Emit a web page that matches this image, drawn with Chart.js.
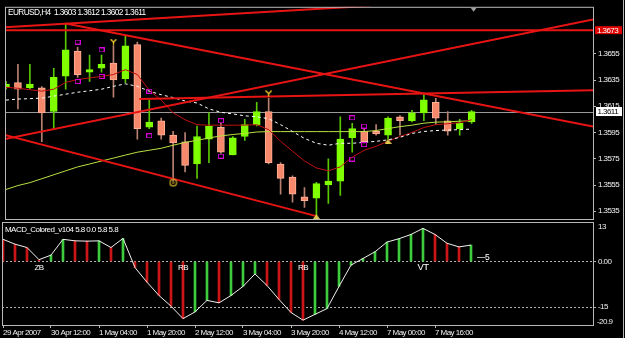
<!DOCTYPE html>
<html><head><meta charset="utf-8">
<script src="https://cdn.jsdelivr.net/npm/chart.js@4.4.0/dist/chart.umd.min.js"></script>
<style>
html,body{margin:0;padding:0;background:#000;}
#wrap{position:relative;width:625px;height:338px;overflow:hidden;background:#000;}
canvas{position:absolute;left:0;top:0;}
</style></head><body>
<div id="wrap"><canvas id="main" width="625" height="338"></canvas><canvas id="macd" width="625" height="338"></canvas></div>
<script>
// ---------- DATA ----------
const symbolTitle = 'EURUSD,H4';
const axisDates = ['29 Apr 2007','30 Apr 12:00','1 May 04:00','1 May 20:00','2 May 12:00','3 May 04:00','3 May 20:00','4 May 12:00','7 May 00:00','7 May 16:00'];
const axisDateBars = [0,4,8,12,16,20,24,28,32,36];

const openPrices  = [1.3630,1.3633,1.3629,1.3629,1.3611,1.3638,1.3657,1.3641,1.3644,1.3648,1.3636,1.3662,1.3599,1.3604,1.3593,1.3588,1.3571,1.3590,1.3599,1.3578,1.3592,1.3601,1.3611,1.3571,1.3561,1.3546,1.3545,1.3555,1.3558,1.3591,1.3596,1.3596,1.3593,1.3607,1.3604,1.3610,1.3618,1.3604,1.3598,1.3603];
const highPrices  = [1.3634,1.3647,1.3647,1.3630,1.3644,1.3678,1.3660,1.3654,1.3654,1.3661,1.3669,1.3664,1.3620,1.3606,1.3596,1.3595,1.3600,1.3610,1.3602,1.3592,1.3605,1.3618,1.3621,1.3572,1.3562,1.3553,1.3557,1.3575,1.3607,1.3602,1.3598,1.3601,1.3607,1.3608,1.3612,1.3624,1.3621,1.3611,1.3605,1.3612];
const lowPrices   = [1.3628,1.3613,1.3628,1.3588,1.3598,1.3628,1.3637,1.3634,1.3641,1.3622,1.3633,1.3590,1.3598,1.3590,1.3558,1.3565,1.3560,1.3572,1.3579,1.3578,1.3589,1.3600,1.3571,1.3548,1.3542,1.3538,1.3532,1.3541,1.3547,1.3580,1.3587,1.3593,1.3590,1.3593,1.3603,1.3604,1.3601,1.3593,1.3593,1.3602];
const closePrices = [1.3632,1.3628,1.3632,1.3610,1.3637,1.3658,1.3639,1.3643,1.3647,1.3635,1.3661,1.3598,1.3603,1.3593,1.3587,1.3570,1.3592,1.3600,1.3580,1.3591,1.3601,1.3611,1.3572,1.3560,1.3548,1.3543,1.3556,1.3558,1.3590,1.3598,1.3588,1.3594,1.3606,1.3604,1.3610,1.3620,1.3606,1.3596,1.3602,1.3611];

const maWhite = [1.36197,1.36205,1.36208,1.36212,1.36227,1.36242,1.36257,1.36268,1.36280,1.36302,1.36321,1.36302,1.36265,1.36238,1.36216,1.36190,1.36175,1.36130,1.36104,1.36092,1.36077,1.36070,1.36055,1.36010,1.35958,1.35905,1.35868,1.35853,1.35868,1.35868,1.35875,1.35883,1.35894,1.35913,1.35943,1.35958,1.35965,1.35969,1.35972,1.35976];
const maRed   = [1.36295,1.36287,1.36276,1.36265,1.36280,1.36332,1.36354,1.36366,1.36377,1.36392,1.36429,1.36392,1.36272,1.36197,1.36100,1.36047,1.36010,1.36006,1.36006,1.36006,1.36006,1.36010,1.35972,1.35883,1.35808,1.35733,1.35680,1.35658,1.35688,1.35763,1.35815,1.35845,1.35883,1.35920,1.35950,1.35988,1.36010,1.36017,1.36025,1.36047];
const maGreen = [1.35516,1.35546,1.35568,1.35598,1.35628,1.35658,1.35688,1.35710,1.35733,1.35755,1.35778,1.35800,1.35815,1.35830,1.35853,1.35875,1.35890,1.35909,1.35924,1.35935,1.35943,1.35954,1.35957,1.35957,1.35957,1.35957,1.35957,1.35957,1.35957,1.35957,1.35957,1.35965,1.35980,1.35995,1.36006,1.36021,1.36029,1.36032,1.36036,1.36040];

const priceTicks = [1.3535,1.3555,1.3575,1.3595,1.3615,1.3635,1.3655];
const priceMin = 1.35291, priceMax = 1.36908;
const alertLevel = 1.3673;

// trend lines: [barIndex, price] end points
const trendB = [[-0.25,1.36751],[30.58,1.36916]];
const trendC = [[5,1.36781],[49.17,1.35995]];
const trendD = [[-0.25,1.35898],[49.17,1.36811]];
const trendE = [[-0.25,1.35935],[26,1.35313]];
const trendF = [[11.17,1.36205],[49.17,1.36272]];

const fractalUpBars   = [6,8,12,18,29,30];
const fractalUpPrices = [1.36639,1.36579,1.36265,1.36040,1.36062,1.35999];
const fractalDnBars   = [6,8,12,18,29,30];
const fractalDnPrices = [1.36339,1.36377,1.35925,1.35770,1.35748,1.35858];
const forkBars = [9,22];
const forkPrices = [1.36639,1.36246];
const circleBars = [14];
const circlePrices = [1.35568];
const triBars = [26,32];
const triPrices = [1.35310,1.35883];

const macdTitle = 'MACD_Colored_v104 5.8 0.0 5.8 5.8';
const macdValues = [7.3,5.7,4.6,0.6,2.1,7.3,6.8,6.7,6.8,4.6,7.6,-2.0,-6.8,-11.2,-14.7,-18.8,-16.6,-12.8,-13.6,-11.2,-8.2,-4.1,-7.9,-12.5,-16.8,-19.3,-17.4,-15.5,-8.2,-1.2,1.0,3.2,6.4,7.5,8.9,10.9,8.9,6.0,4.8,5.4];
const macdMax = 13, macdMin = -20.9;
const macdTicks = [-15, 0];
const macdSignalBars = [3,15,25,35];
const macdSignalTexts = ['ZB','RB','RB','VT'];
const macdLastText = '\u20145';

// ---------- STYLE ----------
const FONT = '"Liberation Sans", Arial, sans-serif';
const FS = 8;
const LS = '-0.55px';
const BULL = '#7fff00', BULL_WICK = '#58c800';
const BEAR = '#f6896b', BEAR_EDGE = '#ffb196', BEAR_WICK = '#b88070';
const TREND = '#e81414';
const FRAME = '#b8b8b8';
const N = openPrices.length;
const xMin = -1/12, xMax = -1/12 + 591/12;

Chart.defaults.font.family = FONT;
Chart.defaults.font.size = FS;
Chart.defaults.color = '#f0f0f0';

function mkImg(w,h,draw){const c=document.createElement('canvas');c.width=w;c.height=h;const g=c.getContext('2d');draw(g);return c;}
const imgSquare = mkImg(6,5,g=>{g.strokeStyle='#d400d4';g.lineWidth=1;g.strokeRect(0.5,0.5,5,4);});
const imgFork = mkImg(7,7,g=>{g.strokeStyle='#f0cc30';g.lineWidth=1.3;g.beginPath();g.moveTo(0.5,0.5);g.lineTo(3.5,3.5);g.lineTo(6.5,0.5);g.moveTo(3.5,3.5);g.lineTo(3.5,6.5);g.stroke();});
const imgCircle = mkImg(9,9,g=>{g.strokeStyle='#c8a828';g.lineWidth=1.2;g.beginPath();g.arc(4.5,4.5,3.3,0,Math.PI*2);g.stroke();g.fillStyle='#806818';g.beginPath();g.arc(4.5,4.5,1.5,0,Math.PI*2);g.fill();});
const imgTri = mkImg(7,5,g=>{g.fillStyle='#e0c850';g.beginPath();g.moveTo(3.5,0);g.lineTo(7,5);g.lineTo(0,5);g.closePath();g.fill();});

const idx = [...Array(N).keys()];
const isBull = idx.map(i => closePrices[i] >= openPrices[i]);
const pts = (bars, vals) => bars.map((b,k)=>({x:b, y:vals[k]}));
const seg = (arr) => arr.map(p=>({x:p[0], y:p[1]}));
const lineDs = (data, color, width, order, dash) => ({type:'line', data, borderColor:color, borderWidth:width, pointRadius:0, tension:0, order, borderDash:dash||[], fill:false});
const markerDs = (data, img, order) => ({type:'line', data, showLine:false, pointStyle:img, pointRadius:4, order});

const spacingPlugin = { id:'spacing', beforeDraw(chart){ chart.ctx.letterSpacing = LS; } };

const mainPlugin = {
  id:'mainDeco',
  beforeDatasetsDraw(chart){
    const {ctx, chartArea:a, scales:{y}} = chart;
    const yb = Math.round(y.getPixelForValue(closePrices[N-1]))+0.5;
    ctx.save(); ctx.strokeStyle='#9a9a9a'; ctx.lineWidth=1;
    ctx.beginPath(); ctx.moveTo(a.left,yb); ctx.lineTo(a.right,yb); ctx.stroke(); ctx.restore();
  },
  afterDraw(chart){
    const {ctx, chartArea:a, scales:{x,y}} = chart;
    ctx.save();
    ctx.strokeStyle=FRAME; ctx.lineWidth=1;
    ctx.strokeRect(a.left+0.5, a.top+0.5, a.right-a.left, a.bottom-a.top);
    // title
    ctx.letterSpacing = '-0.6px';
    ctx.font = '8.3px '+FONT; ctx.fillStyle='#ffffff'; ctx.textBaseline='middle'; ctx.textAlign='left';
    const L=N-1;
    ctx.fillText(symbolTitle+'  '+openPrices[L].toFixed(4)+' '+highPrices[L].toFixed(4)+' '+lowPrices[L].toFixed(4)+' '+closePrices[L].toFixed(4), a.left+3, a.top+6);
    ctx.letterSpacing = LS;
    ctx.font = FS+'px '+FONT;
    // alert level box
    const yl = y.getPixelForValue(alertLevel);
    ctx.fillStyle='#e00000'; ctx.fillRect(a.right+2, yl-4, 27, 8);
    ctx.fillStyle='#ffffff'; ctx.fillText(alertLevel.toFixed(4), a.right+4, yl+0.5);
    // bid box
    const yc = y.getPixelForValue(closePrices[L]);
    ctx.fillStyle='#ffffff'; ctx.fillRect(a.right+3, yc-4.5, 26, 9);
    ctx.fillStyle='#000000'; ctx.fillText(closePrices[L].toFixed(4), a.right+4.5, yc+0.5);
    // shift marker
    const xs = x.getPixelForValue(L)+2;
    ctx.fillStyle='#a0a0a0'; ctx.beginPath(); ctx.moveTo(xs-3,a.top+1); ctx.lineTo(xs+3,a.top+1); ctx.lineTo(xs,a.top+5); ctx.closePath(); ctx.fill();
    ctx.restore();
  }
};

new Chart(document.getElementById('main'), {
  type:'bar',
  data:{datasets:[
    {type:'bar', data: idx.map(i=>({x:i, y:[lowPrices[i], highPrices[i]]})), backgroundColor: idx.map(i=>isBull[i]?BULL_WICK:BEAR_WICK), barThickness:1, grouped:false, order:20},
    {type:'bar', data: idx.map(i=>({x:i, y:[openPrices[i], closePrices[i]]})), backgroundColor: idx.map(i=>isBull[i]?BULL:BEAR), borderColor: idx.map(i=>isBull[i]?BULL:BEAR_EDGE), borderWidth:1, borderSkipped:false, barThickness:7, minBarLength:2, grouped:false, order:19},
    lineDs(idx.map(i=>({x:i,y:maGreen[i]})), '#b8e040', 1, 12),
    lineDs(idx.map(i=>({x:i,y:maRed[i]})), '#c01010', 1, 11),
    lineDs(idx.map(i=>({x:i,y:maWhite[i]})), '#ffffff', 1, 10, [3,3]),
    lineDs([{x:xMin,y:alertLevel},{x:xMax,y:alertLevel}], TREND, 2, 5),
    lineDs(seg(trendB), TREND, 2, 5),
    lineDs(seg(trendC), TREND, 2, 5),
    lineDs(seg(trendD), TREND, 2, 5),
    lineDs(seg(trendE), TREND, 2, 5),
    lineDs(seg(trendF), TREND, 2, 5),
    markerDs(pts(fractalUpBars, fractalUpPrices), imgSquare, 2),
    markerDs(pts(fractalDnBars, fractalDnPrices), imgSquare, 2),
    markerDs(pts(forkBars, forkPrices), imgFork, 2),
    markerDs(pts(circleBars, circlePrices), imgCircle, 2),
    markerDs(pts(triBars, triPrices), imgTri, 2)
  ]},
  options:{
    responsive:false, animation:false, devicePixelRatio:1,
    layout:{padding:{left:2, top:2, right:0, bottom:119}},
    plugins:{legend:{display:false}, tooltip:{enabled:false}},
    scales:{
      x:{type:'linear', min:xMin, max:xMax, offset:false, display:false, grid:{display:false, offset:false}},
      y:{type:'linear', position:'right', min:priceMin, max:priceMax,
         afterBuildTicks: s => { s.ticks = priceTicks.map(v=>({value:v})); },
         afterFit: s => { s.width = 32; },
         ticks:{callback:v=>Number(v).toFixed(4), padding:2, color:'#f0f0f0', autoSkip:false},
         grid:{drawOnChartArea:false, tickLength:3, color:FRAME},
         border:{display:false}}
    }
  },
  plugins:[spacingPlugin, mainPlugin]
});

const macdPlugin = {
  id:'macdDeco',
  beforeDatasetsDraw(chart){
    const {ctx, chartArea:a, scales:{y}} = chart;
    ctx.save(); ctx.strokeStyle='#b0b0b0'; ctx.lineWidth=1; ctx.setLineDash([2,2]);
    macdTicks.forEach(v=>{const yy=Math.round(y.getPixelForValue(v))+0.5; ctx.beginPath(); ctx.moveTo(a.left,yy); ctx.lineTo(a.right+2,yy); ctx.stroke();});
    ctx.restore();
  },
  afterDraw(chart){
    const {ctx, chartArea:a, scales:{x,y}} = chart;
    ctx.save();
    ctx.letterSpacing = LS;
    ctx.strokeStyle=FRAME; ctx.lineWidth=1;
    ctx.strokeRect(a.left+0.5, a.top+0.5, a.right-a.left, a.bottom-a.top);
    ctx.beginPath(); ctx.moveTo(623.5,0); ctx.lineTo(623.5,338); ctx.stroke();
    ctx.fillStyle='#ffffff'; ctx.textBaseline='middle'; ctx.font=FS+'px '+FONT;
    ctx.textAlign='left';
    ctx.fillText(macdTitle, a.left+3, a.top+7.5);
    ctx.fillStyle='#f0f0f0';
    ctx.fillText(String(macdMax), a.right+5, a.top+5);
    ctx.fillText(String(macdMin), a.right+4, a.bottom-3.5);
    ctx.fillStyle='#ffffff';
    ctx.textAlign='center';
    macdSignalBars.forEach((b,k)=>{ ctx.font=(macdSignalTexts[k]==='VT'?'9.5px ':FS+'px ')+FONT; ctx.fillText(macdSignalTexts[k], x.getPixelForValue(b), y.getPixelForValue(0)+6); });
    ctx.font='8.5px '+FONT; ctx.textAlign='left';
    ctx.fillText(macdLastText, x.getPixelForValue(N-1)+6, y.getPixelForValue(0)-3.5);
    ctx.restore();
  }
};

new Chart(document.getElementById('macd'), {
  type:'bar',
  data:{datasets:[
    {type:'bar', data: idx.map(i=>({x:i, y:macdValues[i]})), backgroundColor: idx.map(i=> (i>0 && macdValues[i]>macdValues[i-1]) ? '#3ccc3c' : '#cc1616'), barThickness:2, grouped:false, order:5},
    {type:'line', data: idx.map(i=>({x:i, y:macdValues[i]})), borderColor:'#f0f0f0', borderWidth:1, pointRadius:0, tension:0, order:1}
  ]},
  options:{
    responsive:false, animation:false, devicePixelRatio:1,
    layout:{padding:{left:2, top:222, right:0, bottom:0}},
    plugins:{legend:{display:false}, tooltip:{enabled:false}},
    scales:{
      x:{type:'linear', position:'bottom', min:xMin, max:xMax, offset:false,
         afterBuildTicks: s => { s.ticks = axisDateBars.map(v=>({value:v})); },
         afterFit: s => { s.height = 13; },
         ticks:{callback:(v,i)=>axisDates[i], align:'start', autoSkip:false, maxRotation:0, padding:0, color:'#f0f0f0'},
         grid:{drawOnChartArea:false, tickLength:3, color:FRAME, offset:false},
         border:{display:false}},
      y:{type:'linear', position:'right', min:macdMin, max:macdMax,
         afterBuildTicks: s => { s.ticks = macdTicks.map(v=>({value:v})); },
         afterFit: s => { s.width = 32; },
         ticks:{callback:v=> v===0 ? '0.00' : String(v), padding:2, color:'#f0f0f0', autoSkip:false},
         grid:{drawOnChartArea:false, tickLength:3, color:FRAME},
         border:{display:false}}
    }
  },
  plugins:[spacingPlugin, macdPlugin]
});
</script>
</body></html>
